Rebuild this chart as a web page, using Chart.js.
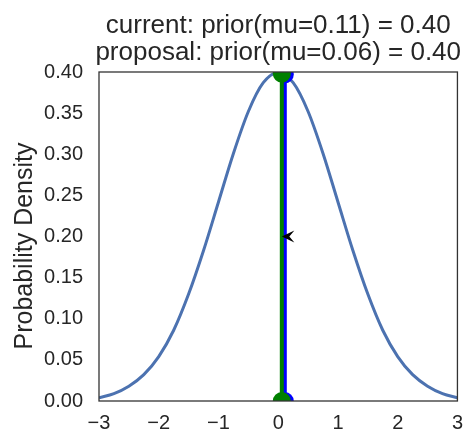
<!DOCTYPE html>
<html>
<head>
<meta charset="utf-8">
<script src="https://cdn.jsdelivr.net/npm/chart.js@4"></script>
<style>
  html, body { margin: 0; padding: 0; background: #fff; }
  #wrap { width: 473px; height: 434px; }
</style>
</head>
<body>
<div id="wrap"><canvas id="chart" width="473" height="434"></canvas></div>
<script>
// prior curve
const priorX = [-3, -2.75, -2.5, -2.25, -2, -1.75, -1.5, -1.25, -1, -0.75, -0.5, -0.25, 0,
  0.25, 0.5, 0.75, 1, 1.25, 1.5, 1.75, 2, 2.25, 2.5, 2.75, 3];
const priorY = [0.004, 0.009, 0.018, 0.032, 0.054, 0.086, 0.130, 0.183, 0.242, 0.301, 0.352, 0.387, 0.399,
  0.387, 0.352, 0.301, 0.242, 0.183, 0.130, 0.086, 0.054, 0.032, 0.018, 0.009, 0.004];

const muCurrent = 0.11;
const muProposal = 0.06;
const priorCurrent = 0.397;
const priorProposal = 0.398;

const arrowFrom = [0.27, 0.2];
const arrowTo = [0.06, 0.2];

const titleLines = [
  'current: prior(mu=0.11) = 0.40',
  'proposal: prior(mu=0.06) = 0.40'
];

const TEXT = '#262626';
const FONT = "'Liberation Sans', Arial, sans-serif";

const frameAndText = {
  id: 'frameAndText',
  afterDatasetsDraw(chart) {
    const { ctx, chartArea: a, scales } = chart;
    ctx.save();
    // arrow head
    const x1 = scales.x.getPixelForValue(arrowFrom[0]);
    const y1 = scales.y.getPixelForValue(arrowFrom[1]);
    const x2 = scales.x.getPixelForValue(arrowTo[0]);
    ctx.fillStyle = '#000';
    ctx.beginPath();
    ctx.moveTo(x2, y1);
    ctx.lineTo(x1, y1 - 6);
    ctx.lineTo(x1 - 5, y1);
    ctx.lineTo(x1, y1 + 6);
    ctx.closePath();
    ctx.fill();
    // frame
    ctx.strokeStyle = '#333';
    ctx.lineWidth = 1.3;
    ctx.strokeRect(a.left, a.top, a.right - a.left, a.bottom - a.top);
    // title
    ctx.fillStyle = TEXT;
    ctx.font = '26px ' + FONT;
    ctx.textAlign = 'center';
    ctx.textBaseline = 'alphabetic';
    const cx = (a.left + a.right) / 2;
    ctx.fillText(titleLines[0], cx, 33);
    ctx.fillText(titleLines[1], cx, 60);
    // y label
    ctx.translate(32, 246);
    ctx.rotate(-Math.PI / 2);
    ctx.font = '25px ' + FONT;
    ctx.fillText('Probability Density', 0, 0);
    ctx.restore();
  }
};

new Chart(document.getElementById('chart'), {
  type: 'line',
  data: {
    datasets: [
      {
        data: priorX.map((x, i) => ({ x, y: priorY[i] })),
        borderColor: '#4C72B0',
        borderWidth: 3,
        pointRadius: 0,
        cubicInterpolationMode: 'monotone',
        order: 3
      },
      {
        data: [{ x: muCurrent, y: 0 }, { x: muCurrent, y: priorCurrent }],
        borderColor: '#0000FF',
        backgroundColor: '#0000FF',
        borderWidth: 4,
        pointRadius: 9,
        pointBorderWidth: 0,
        clip: 0,
        order: 2
      },
      {
        data: [{ x: muProposal, y: 0 }, { x: muProposal, y: priorProposal }],
        borderColor: '#008000',
        backgroundColor: '#008000',
        borderWidth: 4,
        pointRadius: 9,
        pointBorderWidth: 0,
        clip: 0,
        order: 1
      }
    ]
  },
  options: {
    responsive: false,
    animation: false,
    layout: { padding: { top: 72, right: 10, left: 0, bottom: 0 } },
    plugins: { legend: { display: false }, tooltip: { enabled: false } },
    scales: {
      x: {
        type: 'linear',
        min: -3,
        max: 3,
        grid: { display: false, drawTicks: false },
        border: { display: false },
        ticks: {
          stepSize: 1,
          color: TEXT,
          font: { family: FONT, size: 20 },
          padding: 10,
          callback: v => String(v).replace('-', '\u2212')
        },
        afterFit: s => { s.height = 33; }
      },
      y: {
        min: 0,
        max: 0.4,
        grid: { display: false, drawTicks: false },
        border: { display: false },
        ticks: {
          stepSize: 0.05,
          color: TEXT,
          font: { family: FONT, size: 20 },
          padding: 16,
          callback: v => v.toFixed(2)
        },
        afterFit: s => { s.width = 99; }
      }
    }
  },
  plugins: [frameAndText]
});
</script>
</body>
</html>
